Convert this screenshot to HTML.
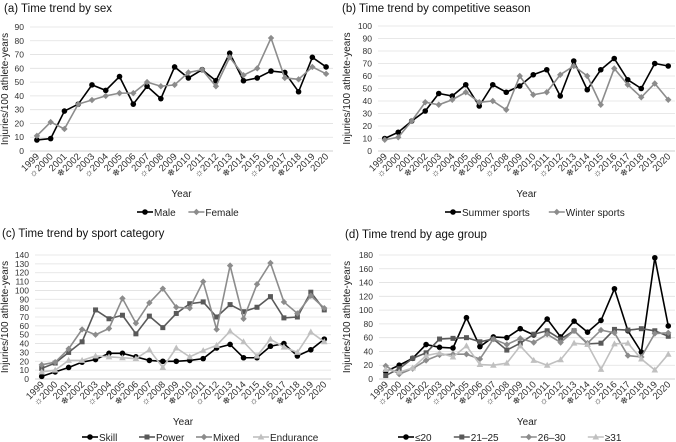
<!DOCTYPE html>
<html><head><meta charset="utf-8"><style>
body{margin:0;background:#fff;}
svg{display:block;font-family:"Liberation Sans","DejaVu Sans",sans-serif;}
</style></head><body>
<svg id="s" width="676" height="442" viewBox="0 0 676 442" xmlns="http://www.w3.org/2000/svg"></svg>
<script>
const years = ["1999","☼2000","2001","❄2002","2003","☼2004","2005","❄2006","2007","☼2008","2009","❄2010","2011","☼2012","2013","❄2014","2015","☼2016","2017","❄2018","2019","2020"];
const maleVals = [8,9,29,34,48,44,54,34,47,38,61,53,59,51,71,51,53,58,57,43,68,61];
const femaleVals = [11,21,16,34,37,40,42,42,50,47,48,57,59,47,68,55,60,82,53,52,61,56];
const summerVals = [10,15,24,32,46,44,53,36,53,47,52,61,65,44,72,49,65,74,57,50,70,68];
const winterVals = [9,11,24,39,37,41,47,39,40,33,60,45,47,61,68,60,37,66,53,43,54,41];
const skillVals = [3,8,13,19,22,29,29,25,21,20,20,21,23,35,39,24,24,37,40,26,33,45];
const powerVals = [12,18,30,42,78,68,72,51,71,58,74,85,87,70,84,76,81,93,69,70,98,78];
const mixedVals = [16,19,34,56,50,57,91,63,86,102,81,80,110,56,128,68,107,131,87,74,94,80];
const enduranceVals = [8,10,21,21,26,25,24,23,33,13,35,25,32,38,54,42,26,45,36,30,53,42];
const age20Vals = [11,20,30,50,46,45,89,47,61,60,73,64,87,61,84,68,85,131,70,39,176,77];
const age2125Vals = [5,15,30,38,58,59,60,54,58,42,52,65,70,58,70,51,52,72,71,73,70,62];
const age2630Vals = [19,7,15,27,35,36,36,29,58,50,59,53,65,53,70,52,71,67,34,32,66,67];
const age31Vals = [14,10,16,34,38,32,48,21,20,23,48,27,20,28,52,50,14,51,52,29,13,36];
const ticksA = [0,10,20,30,40,50,60,70,80,90];
const ticksB = [0,10,20,30,40,50,60,70,80,90,100];
const ticksC = [0,10,20,30,40,50,60,70,80,90,100,110,120,130,140];
const ticksD = [0,20,40,60,80,100,120,140,160,180];

const NS="http://www.w3.org/2000/svg";
const svg=document.getElementById('s');
function mk(tag,attrs,parent){const e=document.createElementNS(NS,tag);for(const k in attrs)e.setAttribute(k,attrs[k]);(parent||svg).appendChild(e);return e;}

function panel(p){
  const g=mk('g',{});
  
  
  const n=years.length, step=(p.x1-p.x0)/n;
  const xs=i=>p.x0+step*(i+0.5);
  const ys=v=>p.yb-(v/p.max)*(p.yb-p.yt);
  const t=mk('text',{x:p.tx,y:p.ty,'font-size':11.5,fill:'#111'},g);t.textContent=p.title;
  
  
  p.ticks.forEach(v=>{
    mk('line',{x1:p.x0,x2:p.x1,y1:ys(v),y2:ys(v),stroke:v===0?'#bfbfbf':'#e0e0e0','stroke-width':0.8},g);
    const tt=mk('text',{x:p.x0-6,y:ys(v)+3,'font-size':8.5,'text-anchor':'end',fill:'#333'},g);tt.textContent=v;
    
    
  });
  years.forEach((y,i)=>{
    const tx=xs(i)+3, ty=p.yb+6;
    const tt=mk('text',{x:tx,y:ty,'font-size':9.5,'text-anchor':'end',fill:'#333',transform:`rotate(-45 ${tx} ${ty})`},g);tt.textContent=y;
    
    
  });
  const yl=mk('text',{x:0,y:0,'font-size':10,'text-anchor':'middle',fill:'#222',transform:`translate(${p.ylx},${(p.yt+p.yb)/2}) rotate(-90)`},g);yl.textContent='Injuries/100 athlete-years';
  
  
  const xl=mk('text',{x:(p.x0+p.x1)/2,y:p.xly,'font-size':10,'text-anchor':'middle',fill:'#222'},g);xl.textContent='Year';
  
  
  p.series.forEach(s=>{
    const sg=mk('g',{},g);
    
    
    mk('polyline',{points:s.vals.map((v,i)=>xs(i)+','+ys(v)).join(' '),fill:'none',stroke:s.c,'stroke-width':1.6},sg);
    s.vals.forEach((v,i)=>marker(sg,s.m,xs(i),ys(v),s.c));
  });
  let lx=p.legX;
  p.series.forEach(s=>{
    const lg=mk('g',{},g);
    
    
    mk('line',{x1:lx,x2:lx+16,y1:p.legY-3,y2:p.legY-3,stroke:s.c,'stroke-width':1.6},lg);
    marker(lg,s.m,lx+8,p.legY-3,s.c);
    const lt=mk('text',{x:lx+17,y:p.legY+1,'font-size':10,fill:'#222'},lg);lt.textContent=s.label;
    lx+=17+s.label.length*5.6+p.legGap;
  });
}
function marker(g,m,x,y,c){
  if(m==='o')mk('circle',{cx:x,cy:y,r:2.8,fill:c},g);
  else if(m==='s')mk('rect',{x:x-2.5,y:y-2.5,width:5,height:5,fill:c},g);
  else if(m==='d')mk('polygon',{points:`${x},${y-3.2} ${x+3.2},${y} ${x},${y+3.2} ${x-3.2},${y}`,fill:c},g);
  else mk('polygon',{points:`${x},${y-3.5} ${x+3.3},${y+2.5} ${x-3.3},${y+2.5}`,fill:c},g);
}
const K='#000',D='#595959',M='#8c8c8c',L='#c0c0c0';
panel({name:'panel-a-sex',title:'(a) Time trend by sex',tx:4,ty:12,x0:30,x1:333,yt:27,yb:151,max:90,ticks:ticksA,ylx:8,xly:197,legX:137,legY:215,legGap:12,
  series:[{label:'Male',vals:maleVals,c:K,m:'o'},{label:'Female',vals:femaleVals,c:M,m:'d'}]});
panel({name:'panel-b-season',title:'(b) Time trend by competitive season',tx:342,ty:12,x0:378,x1:675,yt:26,yb:151,max:100,ticks:ticksB,ylx:350,xly:197,legX:445,legY:215,legGap:14,
  series:[{label:'Summer sports',vals:summerVals,c:K,m:'o'},{label:'Winter sports',vals:winterVals,c:M,m:'d'}]});
panel({name:'panel-c-sport',title:'(c) Time trend by sport category',tx:2,ty:237,x0:35,x1:331,yt:255,yb:379,max:140,ticks:ticksC,ylx:8,xly:425,legX:82,legY:440,legGap:12,
  series:[{label:'Skill',vals:skillVals,c:K,m:'o'},{label:'Power',vals:powerVals,c:D,m:'s'},{label:'Mixed',vals:mixedVals,c:M,m:'d'},{label:'Endurance',vals:enduranceVals,c:L,m:'t'}]});
panel({name:'panel-d-age',title:'(d)  Time trend by age group',tx:345,ty:238,x0:379,x1:675,yt:255,yb:379,max:180,ticks:ticksD,ylx:350,xly:425,legX:398,legY:440,legGap:22,
  series:[{label:'≤20',vals:age20Vals,c:K,m:'o'},{label:'21–25',vals:age2125Vals,c:D,m:'s'},{label:'26–30',vals:age2630Vals,c:M,m:'d'},{label:'≥31',vals:age31Vals,c:L,m:'t'}]});
</script>
</body></html>
